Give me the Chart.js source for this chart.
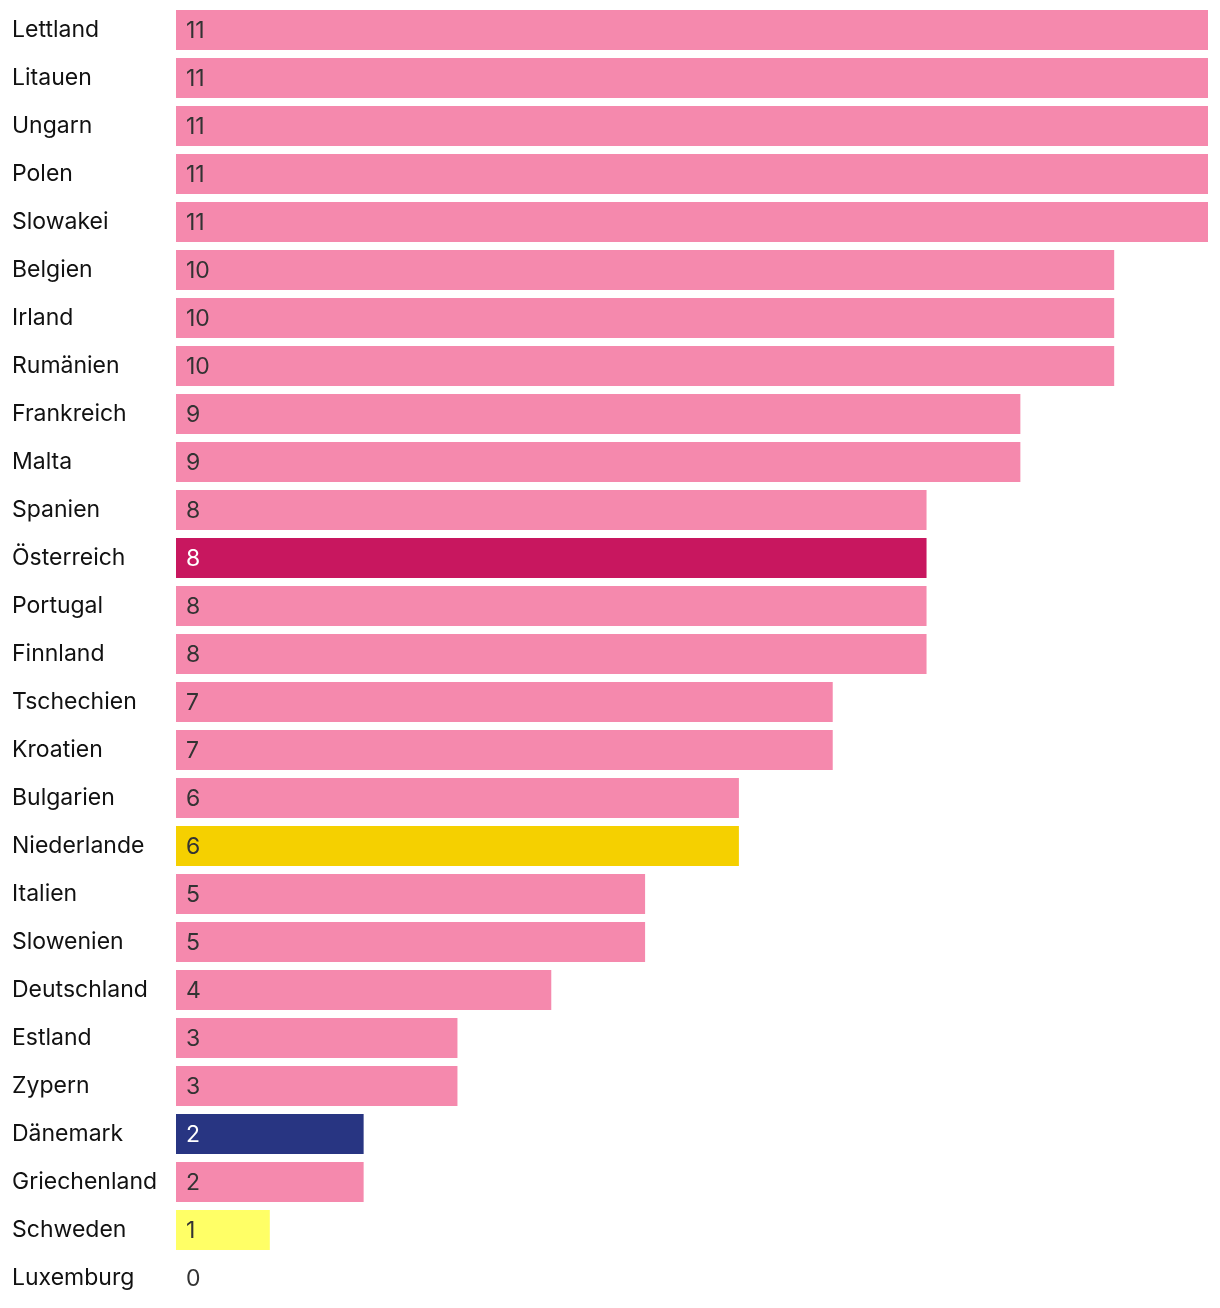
<!DOCTYPE html>
<html>
<head>
<meta charset="utf-8">
<script src="https://cdn.jsdelivr.net/npm/chart.js@4.4.1/dist/chart.umd.min.js"></script>
<style>
  html, body { margin: 0; padding: 0; background: #fff; }
  #wrap { width: 1220px; height: 1308px; position: relative; }
</style>
</head>
<body>
<div id="wrap"><canvas id="myChart"></canvas></div>
<script>
const countries = [
  "Lettland", "Litauen", "Ungarn", "Polen", "Slowakei", "Belgien", "Irland",
  "Rumänien", "Frankreich", "Malta", "Spanien", "Österreich", "Portugal",
  "Finnland", "Tschechien", "Kroatien", "Bulgarien", "Niederlande", "Italien",
  "Slowenien", "Deutschland", "Estland", "Zypern", "Dänemark", "Griechenland",
  "Schweden", "Luxemburg"
];
const values = [11, 11, 11, 11, 11, 10, 10, 10, 9, 9, 8, 8, 8, 8, 7, 7, 6, 6, 5, 5, 4, 3, 3, 2, 2, 1, 0];
const xMax = 11;

const pink = "#f589ad";
const highlight = {
  "Österreich": "#c8175f",
  "Niederlande": "#f5d000",
  "Dänemark": "#283582",
  "Schweden": "#ffff66"
};
const lightText = ["Österreich", "Dänemark"];
const FONT = "Inter, 'Liberation Sans', sans-serif";

const barColors = countries.map(c => highlight[c] || pink);

// value labels drawn inside the bars
const valueLabels = {
  id: "valueLabels",
  afterDatasetsDraw(chart) {
    const ctx = chart.ctx;
    const x = chart.scales.x;
    const meta = chart.getDatasetMeta(0);
    ctx.save();
    ctx.font = "23px " + FONT;
    ctx.textBaseline = "middle";
    ctx.textAlign = "left";
    meta.data.forEach((bar, i) => {
      ctx.fillStyle = lightText.includes(countries[i]) ? "#ffffff" : "#333333";
      ctx.fillText(String(values[i]), x.getPixelForValue(0) + 10, bar.y + 1);
    });
    ctx.restore();
  }
};

new Chart(document.querySelector("#myChart"), {
  type: "bar",
  data: {
    labels: countries,
    datasets: [{
      data: values,
      backgroundColor: barColors,
      borderWidth: 0,
      barPercentage: 40 / 48,
      categoryPercentage: 1
    }]
  },
  options: {
    indexAxis: "y",
    responsive: true,
    maintainAspectRatio: false,
    animation: false,
    layout: { padding: { left: 12, right: 12, top: 6, bottom: 6 } },
    plugins: { legend: { display: false }, tooltip: { enabled: false } },
    scales: {
      x: {
        display: false,
        min: 0,
        max: xMax
      },
      y: {
        grid: { display: false, drawTicks: false },
        border: { display: false },
        afterFit(scale) {
          scale.width = 164;
          scale.paddingTop = 0;
          scale.paddingBottom = 0;
        },
        ticks: {
          crossAlign: "far",
          padding: 0,
          color: "#111111",
          font: { family: FONT, size: 23 }
        }
      }
    }
  },
  plugins: [valueLabels]
});
</script>
</body>
</html>
